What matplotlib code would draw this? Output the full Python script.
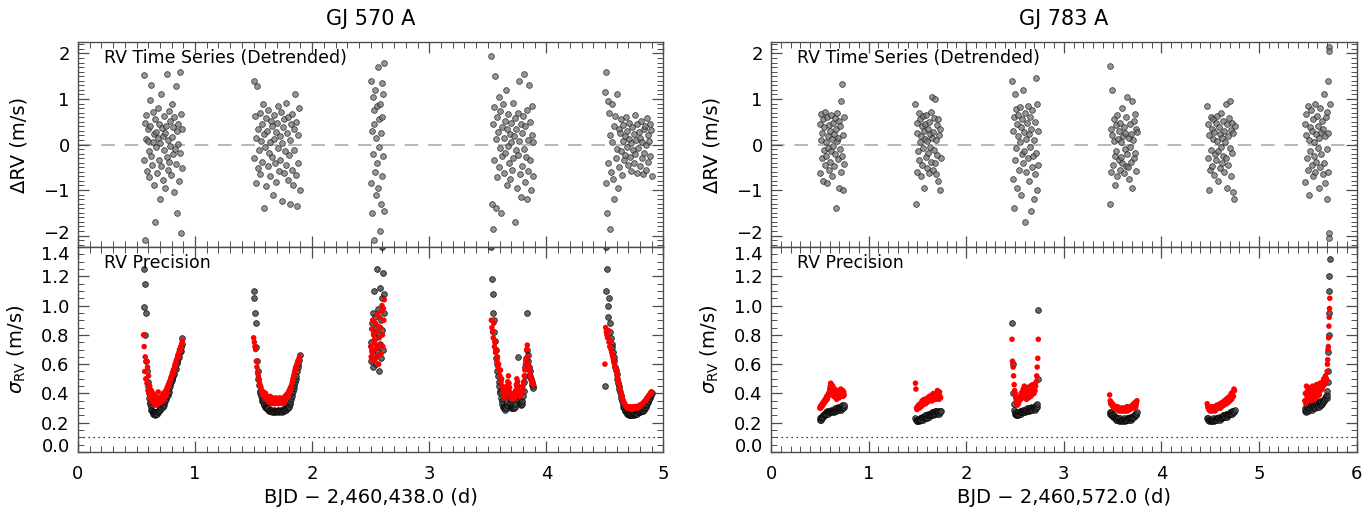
import numpy as np
import matplotlib
matplotlib.use("Agg")
import matplotlib.pyplot as plt
import matplotlib.transforms as mtransforms
from matplotlib.ticker import MultipleLocator

# times in units of 0.001 d, RVs and RV errors in cm/s

# ---- GJ 570 A (BJD - 2,460,438.0) ----
gj570_time = [
    560, 565, 570, 574, 579, 584, 589, 594, 598, 603,
    608, 613, 618, 622, 627, 632, 637, 641, 646, 651,
    656, 661, 665, 670, 675, 680, 685, 689, 694, 699,
    704, 709, 713, 718, 723, 728, 733, 737, 742, 747,
    752, 757, 761, 766, 771, 776, 781, 785, 790, 795,
    800, 805, 809, 814, 819, 824, 829, 833, 838, 843,
    848, 853, 857, 862, 867, 872, 877, 881, 886, 891,
    1500, 1506, 1511, 1517, 1523, 1528, 1534, 1540, 1546, 1551,
    1557, 1563, 1568, 1574, 1580, 1585, 1591, 1597, 1603, 1608,
    1614, 1620, 1625, 1631, 1637, 1642, 1648, 1654, 1660, 1665,
    1671, 1677, 1682, 1688, 1694, 1699, 1705, 1711, 1717, 1722,
    1728, 1734, 1739, 1745, 1751, 1756, 1762, 1768, 1774, 1779,
    1785, 1791, 1796, 1802, 1808, 1813, 1819, 1825, 1831, 1836,
    1842, 1848, 1853, 1859, 1865, 1870, 1876, 1882, 1888, 1894,
    2500, 2504, 2508, 2512, 2516, 2520, 2524, 2528, 2532, 2536,
    2540, 2544, 2548, 2552, 2556, 2560, 2564, 2568, 2572, 2576,
    2580, 2584, 2588, 2592, 2596, 2600, 2604, 2608, 2612, 2616,
    3530, 3535, 3540, 3546, 3551, 3556, 3561, 3566, 3572, 3577,
    3582, 3587, 3592, 3598, 3603, 3608, 3613, 3618, 3624, 3629,
    3634, 3639, 3644, 3650, 3655, 3660, 3665, 3670, 3676, 3681,
    3686, 3691, 3696, 3702, 3707, 3712, 3717, 3722, 3728, 3733,
    3738, 3743, 3748, 3754, 3759, 3764, 3769, 3774, 3780, 3785,
    3790, 3795, 3800, 3806, 3811, 3816, 3821, 3826, 3832, 3837,
    3842, 3847, 3852, 3858, 3863, 3868, 3873, 3878, 3884, 3889,
    4500, 4506, 4512, 4517, 4523, 4529, 4535, 4541, 4546, 4552,
    4558, 4564, 4570, 4575, 4581, 4587, 4593, 4599, 4604, 4610,
    4616, 4622, 4628, 4633, 4639, 4645, 4651, 4657, 4662, 4668,
    4674, 4680, 4686, 4691, 4697, 4703, 4709, 4715, 4720, 4726,
    4732, 4738, 4744, 4749, 4755, 4761, 4767, 4773, 4778, 4784,
    4790, 4796, 4802, 4807, 4813, 4819, 4825, 4831, 4836, 4842,
    4848, 4854, 4860, 4865, 4871, 4877, 4883, 4889, 4894, 4900,
]
gj570_drv = [
    152, -35, 48, -210, 12, 65, -58, 8, 33, -72,
    -15, 97, 40, -25, 130, -44, 5, 71, -88, 22,
    -170, 55, -6, 28, -62, 80, 14, -33, 46, -120,
    3, 110, -48, 36, -79, 18, 62, -12, -95, 26,
    41, -28, 155, -55, 9, 74, -38, 52, -4, -66,
    88, 17, -21, 38, -105, 60, -9, 128, -43, 29,
    -150, 44, 2, -80, 160, -18, 68, -195, 35, -52,
    140, -30, 62, -85, 15, 128, -52, 34, -12, 70,
    -65, 8, 45, -38, 90, -140, 22, -5, 58, -92,
    30, -48, 75, -18, 6, -70, 52, -27, 41, -110,
    12, 65, -40, 28, -82, 48, -8, 85, -58, 19,
    -35, 72, 3, -125, 38, -62, 55, -15, 92, -45,
    25, -78, 60, -22, 10, -130, 44, -55, 68, -90,
    35, -12, 110, -68, 50, -135, 20, -40, 80, -100,
    140, -85, 30, -150, 105, -20, 75, -210, 45, -60,
    120, -110, 15, 85, -40, 170, -95, 55, -5, -190,
    90, -130, 25, 135, -70, 60, -25, 110, -145, 180,
    195, -130, 45, -185, 82, -35, 150, -140, 12, 60,
    -72, 28, 105, -50, -8, 74, -150, 38, -25, 88,
    15, -62, 52, -18, 120, -88, 33, -4, 66, -40,
    22, -75, 48, 5, -55, 92, -30, 18, -170, 58,
    -12, 35, -95, 70, -22, 140, 8, -65, 44, -115,
    26, -48, 63, -10, 155, -82, 40, -28, 75, -120,
    10, -58, 130, -35, 50, -100, 20, 85, -70, 5,
    115, -85, 160, -150, 95, -40, 70, -185, 20, -60,
    88, 5, -75, 40, -120, 62, -30, 110, -10, -95,
    35, -50, 25, -15, 55, -68, 8, 42, -35, 18,
    -22, 60, -5, 30, -45, 12, 48, -28, 3, -58,
    38, -12, 22, -40, 65, -20, 10, -62, 45, -8,
    28, -48, 15, 52, -30, 5, -65, 35, -18, 40,
    -2, -55, 58, 20, -38, 8, 45, -25, 32, -70,
]
gj570_sig_black = [
    125, 99, 80, 115, 62, 95, 55, 48, 45, 40,
    37, 34, 33, 31, 29, 28, 27, 26, 27, 26,
    27, 25, 26, 27, 26, 28, 27, 29, 28, 30,
    29, 31, 30, 32, 31, 33, 32, 34, 35, 37,
    36, 38, 40, 39, 42, 41, 44, 45, 47, 48,
    50, 49, 52, 54, 53, 56, 58, 57, 60, 62,
    61, 64, 66, 65, 68, 70, 69, 72, 74, 78,
    110, 105, 95, 88, 72, 62, 55, 50, 46, 42,
    40, 38, 36, 35, 34, 33, 32, 31, 31, 30,
    30, 29, 30, 28, 29, 28, 29, 28, 27, 28,
    29, 27, 28, 28, 27, 28, 29, 28, 27, 28,
    28, 29, 28, 27, 29, 28, 29, 30, 29, 30,
    31, 30, 32, 31, 33, 34, 36, 38, 40, 42,
    44, 46, 48, 50, 52, 55, 58, 60, 63, 66,
    75, 62, 88, 70, 95, 58, 82, 110, 66, 78,
    92, 60, 85, 72, 125, 68, 98, 55, 80, 112,
    74, 90, 64, 105, 140, 83, 70, 122, 95, 108,
    140, 118, 108, 95, 90, 82, 76, 70, 64, 60,
    55, 52, 48, 45, 42, 40, 37, 35, 33, 31,
    30, 30, 31, 29, 30, 32, 34, 38, 42, 40,
    36, 33, 31, 30, 31, 30, 32, 30, 31, 33,
    36, 40, 45, 65, 42, 38, 35, 33, 32, 34,
    33, 35, 38, 42, 48, 52, 58, 63, 70, 95,
    66, 62, 58, 55, 52, 50, 48, 46, 45, 44,
    45, 140, 110, 125, 100, 92, 105, 88, 82, 78,
    74, 72, 68, 65, 62, 58, 56, 53, 50, 47,
    45, 43, 41, 39, 37, 35, 33, 31, 30, 29,
    28, 27, 27, 26, 26, 25, 26, 25, 25, 26,
    25, 26, 25, 26, 27, 26, 26, 27, 26, 27,
    27, 28, 27, 28, 28, 29, 28, 29, 30, 30,
    31, 32, 33, 34, 35, 36, 37, 38, 39, 40,
]
gj570_sig_red = [
    80, 72, 55, 65, 50, 62, 47, 58, 42, 52,
    40, 45, 38, 36, 42, 35, 37, 40, 34, 36,
    33, 38, 35, 32, 36, 34, 41, 33, 37, 35,
    36, 34, 38, 37, 35, 40, 36, 39, 41, 38,
    42, 40, 44, 43, 46, 45, 48, 47, 50, 51,
    52, 54, 53, 56, 55, 58, 60, 59, 62, 63,
    64, 66, 65, 68, 70, 69, 72, 71, 74, 76,
    78, 75, 72, 70, 62, 58, 54, 52, 49, 47,
    45, 44, 42, 40, 39, 41, 38, 37, 40, 36,
    38, 35, 37, 34, 36, 38, 35, 33, 37, 35,
    34, 36, 33, 37, 35, 34, 36, 33, 35, 37,
    34, 36, 35, 33, 37, 36, 34, 38, 36, 39,
    37, 40, 38, 42, 41, 44, 43, 46, 48, 50,
    52, 54, 56, 58, 57, 60, 62, 61, 64, 65,
    72, 65, 84, 68, 90, 62, 80, 76, 70, 74,
    88, 64, 82, 71, 94, 66, 86, 60, 78, 92,
    73, 85, 67, 96, 100, 80, 72, 98, 90, 104,
    90, 85, 82, 78, 88, 72, 75, 68, 70, 62,
    65, 58, 60, 55, 52, 56, 48, 50, 45, 42,
    40, 38, 42, 37, 40, 43, 45, 48, 52, 47,
    44, 40, 38, 37, 39, 36, 40, 38, 37, 40,
    42, 46, 50, 48, 45, 42, 40, 38, 39, 41,
    40, 42, 45, 48, 52, 56, 60, 64, 70, 73,
    65, 60, 57, 55, 52, 50, 49, 48, 47, 46,
    60, 85, 82, 80, 78, 83, 75, 72, 76, 70,
    68, 66, 64, 62, 60, 58, 57, 55, 52, 50,
    48, 46, 44, 42, 40, 38, 36, 35, 34, 33,
    32, 31, 31, 30, 31, 30, 30, 31, 30, 30,
    29, 30, 31, 30, 31, 30, 31, 31, 30, 31,
    31, 32, 31, 32, 32, 33, 33, 34, 34, 35,
    35, 36, 37, 37, 38, 39, 39, 40, 41, 41,
]

# ---- GJ 783 A (BJD - 2,460,572.0) ----
gj783_time = [
    500, 505, 510, 515, 520, 526, 531, 536, 541, 546,
    551, 556, 561, 566, 571, 577, 582, 587, 592, 597,
    602, 607, 612, 617, 622, 628, 633, 638, 643, 648,
    653, 658, 663, 668, 673, 679, 684, 689, 694, 699,
    704, 709, 714, 719, 724, 730, 735, 740, 745, 750,
    1480, 1485, 1491, 1496, 1501, 1506, 1512, 1517, 1522, 1527,
    1533, 1538, 1543, 1548, 1554, 1559, 1564, 1569, 1575, 1580,
    1585, 1590, 1596, 1601, 1606, 1611, 1617, 1622, 1627, 1632,
    1638, 1643, 1648, 1653, 1659, 1664, 1669, 1674, 1680, 1685,
    1690, 1695, 1701, 1706, 1711, 1716, 1722, 1727, 1732, 1738,
    2470, 2475, 2481, 2486, 2492, 2497, 2503, 2508, 2514, 2519,
    2525, 2530, 2536, 2541, 2547, 2552, 2558, 2563, 2569, 2574,
    2580, 2585, 2591, 2596, 2602, 2607, 2613, 2618, 2624, 2629,
    2635, 2640, 2646, 2651, 2657, 2662, 2668, 2673, 2679, 2684,
    2690, 2695, 2701, 2706, 2712, 2717, 2723, 2728, 2734, 2739,
    3470, 3476, 3481, 3487, 3493, 3499, 3504, 3510, 3516, 3521,
    3527, 3533, 3539, 3544, 3550, 3556, 3561, 3567, 3573, 3579,
    3584, 3590, 3596, 3601, 3607, 3613, 3619, 3624, 3630, 3636,
    3641, 3647, 3653, 3659, 3664, 3670, 3676, 3681, 3687, 3693,
    3699, 3704, 3710, 3716, 3721, 3727, 3733, 3739, 3744, 3750,
    4470, 4476, 4481, 4487, 4493, 4499, 4504, 4510, 4516, 4521,
    4527, 4533, 4539, 4544, 4550, 4556, 4561, 4567, 4573, 4579,
    4584, 4590, 4596, 4601, 4607, 4613, 4619, 4624, 4630, 4636,
    4641, 4647, 4653, 4659, 4664, 4670, 4676, 4681, 4687, 4693,
    4699, 4704, 4710, 4716, 4721, 4727, 4733, 4739, 4744, 4750,
    5470, 5476, 5481, 5487, 5493, 5499, 5504, 5510, 5516, 5521,
    5527, 5533, 5539, 5544, 5550, 5556, 5561, 5567, 5573, 5579,
    5584, 5590, 5596, 5601, 5607, 5613, 5619, 5624, 5630, 5636,
    5641, 5647, 5653, 5659, 5664, 5670, 5676, 5681, 5687, 5693,
    5699, 5702, 5705, 5708, 5711, 5714, 5717, 5720, 5723, 5726,
]
gj783_drv = [
    45, -62, 10, 68, -30, 25, -80, 55, -12, 38,
    -45, 72, 5, -25, 60, -85, 18, -8, 42, -55,
    30, -38, 65, -15, 12, -70, 48, -3, 22, -48,
    58, -20, 35, -140, 8, 70, -32, 15, -95, 52,
    -10, 40, -60, 95, -25, 132, -100, 20, -42, 60,
    88, -130, 25, -60, 48, -15, 70, -35, 5, 55,
    -70, 18, 40, -45, 62, -8, 30, -95, 12, 45,
    -28, 65, -52, 8, 35, -18, 50, -62, 22, -5,
    72, -38, 15, 105, -55, 28, -12, 58, -40, 100,
    10, -65, 42, -22, 55, -80, 20, -100, 35, -30,
    140, -75, 30, -140, 60, 110, -35, 78, -8, 45,
    -95, 18, 65, -55, 5, 82, -110, 38, -20, 55,
    -40, 120, -15, 28, -170, 70, -60, 12, 48, -30,
    85, -80, 22, -5, 60, -145, 35, -50, 75, -25,
    10, -120, 50, -65, 145, -18, 90, -100, 30, -45,
    172, -130, 35, -60, 20, 120, -45, 8, 55, -25,
    -90, 42, -15, 65, -70, 12, -35, 30, -55, 48,
    5, -28, 80, -40, 18, -62, 38, -10, 25, -48,
    60, -20, 105, -50, 15, -75, 45, -5, 22, -38,
    95, -95, 10, 52, -30, 68, -18, 35, -58, 28,
    85, -30, 45, -100, 20, -55, 60, -12, 35, -48,
    12, 55, -68, 28, -20, 48, -35, 8, 62, -80,
    -15, 38, -52, 22, -5, 70, -40, 15, -25, 52,
    30, -60, 5, 90, -30, 45, -95, 18, -45, 58,
    -8, 95, -70, 32, -18, 48, -105, 25, -120, 40,
    45, -82, 20, 68, -30, 85, -55, 10, -110, 38,
    -15, 75, -45, 30, -70, 55, 5, -25, 90, -60,
    22, -38, 62, -8, 40, -95, 15, 80, -50, 28,
    -20, 52, -65, 35, 110, -40, 18, -85, 60, -10,
    72, -120, 140, 25, -60, 215, -195, 205, -205, 88,
]
gj783_sig_black = [
    22, 23, 22, 24, 23, 24, 25, 24, 25, 26,
    25, 26, 27, 26, 27, 28, 27, 26, 27, 28,
    28, 27, 28, 29, 28, 27, 29, 28, 27, 28,
    29, 30, 29, 28, 29, 30, 31, 30, 29, 30,
    31, 30, 29, 30, 31, 32, 31, 30, 31, 32,
    23, 22, 21, 22, 21, 22, 21, 22, 23, 22,
    23, 22, 24, 23, 22, 24, 23, 24, 25, 24,
    23, 25, 24, 23, 25, 26, 24, 25, 26, 25,
    26, 25, 27, 26, 25, 27, 26, 27, 28, 26,
    27, 28, 26, 27, 28, 27, 26, 28, 27, 28,
    88, 60, 40, 33, 29, 27, 26, 25, 26, 25,
    26, 27, 25, 26, 27, 28, 26, 27, 28, 27,
    29, 28, 27, 29, 28, 27, 28, 29, 30, 28,
    29, 30, 28, 29, 30, 29, 31, 30, 29, 30,
    31, 30, 29, 31, 30, 32, 31, 33, 50, 97,
    27, 26, 27, 25, 26, 25, 24, 25, 24, 23,
    24, 23, 22, 23, 22, 23, 22, 21, 22, 23,
    22, 21, 22, 22, 21, 22, 23, 22, 21, 22,
    22, 23, 22, 23, 22, 23, 24, 23, 22, 23,
    24, 23, 24, 25, 24, 25, 26, 25, 26, 27,
    23, 22, 23, 22, 21, 22, 21, 22, 21, 22,
    22, 23, 22, 21, 22, 23, 22, 23, 22, 23,
    23, 24, 23, 22, 24, 23, 24, 23, 24, 25,
    24, 25, 24, 25, 26, 25, 24, 26, 25, 26,
    26, 27, 26, 27, 26, 28, 27, 28, 27, 29,
    28, 30, 27, 29, 31, 28, 30, 32, 29, 31,
    30, 32, 29, 31, 33, 30, 32, 31, 33, 30,
    32, 34, 31, 33, 32, 34, 31, 33, 35, 32,
    34, 33, 35, 34, 36, 35, 37, 36, 38, 37,
    39, 42, 48, 55, 68, 80, 95, 110, 120, 132,
]
gj783_sig_red = [
    30, 31, 30, 32, 31, 33, 32, 34, 33, 35,
    34, 36, 35, 37, 38, 36, 39, 38, 40, 41,
    43, 45, 47, 44, 46, 42, 45, 40, 38, 41,
    43, 39, 37, 40, 36, 38, 41, 39, 42, 37,
    40, 38, 43, 41, 39, 40, 42, 38, 41, 39,
    47, 43, 30, 29, 31, 30, 32, 31, 30, 33,
    32, 31, 33, 35, 32, 34, 33, 36, 35, 34,
    33, 36, 35, 34, 37, 36, 35, 38, 36, 35,
    37, 36, 39, 35, 38, 40, 37, 36, 39, 38,
    36, 40, 38, 42, 37, 39, 36, 41, 38, 37,
    77, 62, 58, 52, 46, 42, 40, 37, 35, 33,
    32, 34, 33, 36, 35, 38, 36, 40, 38, 41,
    39, 43, 37, 45, 40, 38, 42, 36, 44, 39,
    41, 37, 43, 40, 45, 38, 42, 39, 46, 41,
    44, 40, 46, 42, 45, 48, 52, 58, 64, 77,
    39, 35, 33, 34, 32, 33, 31, 32, 30, 31,
    30, 31, 29, 30, 31, 29, 30, 28, 29, 30,
    28, 29, 30, 28, 29, 30, 28, 29, 30, 28,
    29, 31, 28, 30, 29, 30, 31, 29, 30, 31,
    30, 32, 31, 33, 30, 32, 34, 31, 33, 35,
    33, 31, 30, 29, 30, 28, 30, 29, 31, 28,
    30, 29, 31, 30, 28, 31, 29, 32, 30, 31,
    30, 32, 31, 33, 30, 32, 31, 34, 32, 33,
    32, 35, 33, 34, 36, 33, 35, 37, 34, 36,
    38, 35, 37, 40, 36, 39, 41, 38, 43, 42,
    35, 40, 33, 45, 38, 42, 36, 44, 39, 41,
    37, 43, 35, 40, 45, 38, 42, 36, 44, 39,
    41, 46, 38, 43, 40, 45, 39, 47, 42, 44,
    46, 43, 48, 45, 50, 46, 49, 52, 47, 50,
    55, 60, 63, 70, 72, 78, 86, 92, 98, 105,
]

stars = [
    ("GJ 570 A", "BJD \u2212 2,460,438.0 (d)", 5, 0.057,
     gj570_time, gj570_drv, gj570_sig_black, gj570_sig_red),
    ("GJ 783 A", "BJD \u2212 2,460,572.0 (d)", 6, 0.5636,
     gj783_time, gj783_drv, gj783_sig_black, gj783_sig_red),
]

fig = plt.figure(figsize=(13.68, 5.08), dpi=100)
width = 0.428
spine_col = "0.3"


def nudge(label, dy_px):
    # shift an edge tick label vertically so the stacked panels' labels don't collide
    label.set_transform(label.get_transform() +
                        mtransforms.ScaledTranslation(0, dy_px / 100.0, fig.dpi_scale_trans))


for name, xlabel, xmax, left, t, drv, sb, sr in stars:
    t = np.array(t) / 1000.0
    drv = np.array(drv) / 100.0
    sb = np.array(sb) / 100.0
    sr = np.array(sr) / 100.0

    ax_top = fig.add_axes([left, 0.5138, width, 0.4035])
    ax_bot = fig.add_axes([left, 0.1102, width, 0.4035], sharex=ax_top)

    ax_top.axhline(0, color="0.72", lw=1.4, ls=(0, (7, 5)), zorder=1)
    ax_top.scatter(t, drv, s=17, facecolor="0.45", edgecolor="0.1",
                   linewidths=0.6, alpha=0.75, zorder=2)
    ax_top.set_ylim(-2.25, 2.25)
    ax_top.set_xlim(0, xmax)
    ax_top.set_ylabel("\u0394RV (m/s)", fontsize=14)
    ax_top.text(0.045, 0.92, "RV Time Series (Detrended)", transform=ax_top.transAxes,
                fontsize=12.5, va="center", ha="left")
    ax_top.set_title(name, fontsize=15, pad=12)
    ax_top.yaxis.set_major_locator(MultipleLocator(1))
    ax_top.yaxis.set_minor_locator(MultipleLocator(0.1))
    ax_top.tick_params(labelbottom=False)

    ax_bot.axhline(0.1, color="k", lw=0.9, ls=(0, (1, 3)), zorder=1)
    ax_bot.scatter(t, sb, s=17, facecolor="0.25", edgecolor="k",
                   linewidths=0.6, alpha=0.8, zorder=2)
    ax_bot.scatter(t, sr, s=16, color="red", edgecolor="none", zorder=3)
    ax_bot.set_ylim(0, 1.4)
    ax_bot.set_ylabel(r"$\sigma_{\rm RV}$ (m/s)", fontsize=14)
    ax_bot.set_xlabel(xlabel, fontsize=14, labelpad=4)
    ax_bot.text(0.045, 0.92, "RV Precision", transform=ax_bot.transAxes,
                fontsize=12.5, va="center", ha="left")
    ax_bot.yaxis.set_major_locator(MultipleLocator(0.2))
    ax_bot.yaxis.set_minor_locator(MultipleLocator(0.05))
    ax_bot.yaxis.set_major_formatter(plt.FormatStrFormatter("%.1f"))

    for ax in (ax_top, ax_bot):
        ax.xaxis.set_major_locator(MultipleLocator(1))
        ax.xaxis.set_minor_locator(MultipleLocator(0.1))
        ax.tick_params(which="both", direction="in", top=True, right=True,
                       color=spine_col, labelsize=13)
        ax.tick_params(which="major", length=8, width=0.9)
        ax.tick_params(which="minor", length=4, width=0.7)
        ax.tick_params(axis="x", pad=9)
        ax.tick_params(axis="y", pad=6)
        for sp in ax.spines.values():
            sp.set_color(spine_col)
            sp.set_linewidth(1.0)
        ax.yaxis.set_label_coords(-0.085, 0.5)

    # edge labels: lift "-2", lower "1.4", lift "0.0" like the original layout
    fig.canvas.draw()
    top_labels = ax_top.get_yticklabels()
    bot_labels = ax_bot.get_yticklabels()
    nudge(top_labels[1], 4)
    nudge(bot_labels[-2], -6)
    nudge(bot_labels[1], 7)

fig.savefig("out.png", dpi=100)
